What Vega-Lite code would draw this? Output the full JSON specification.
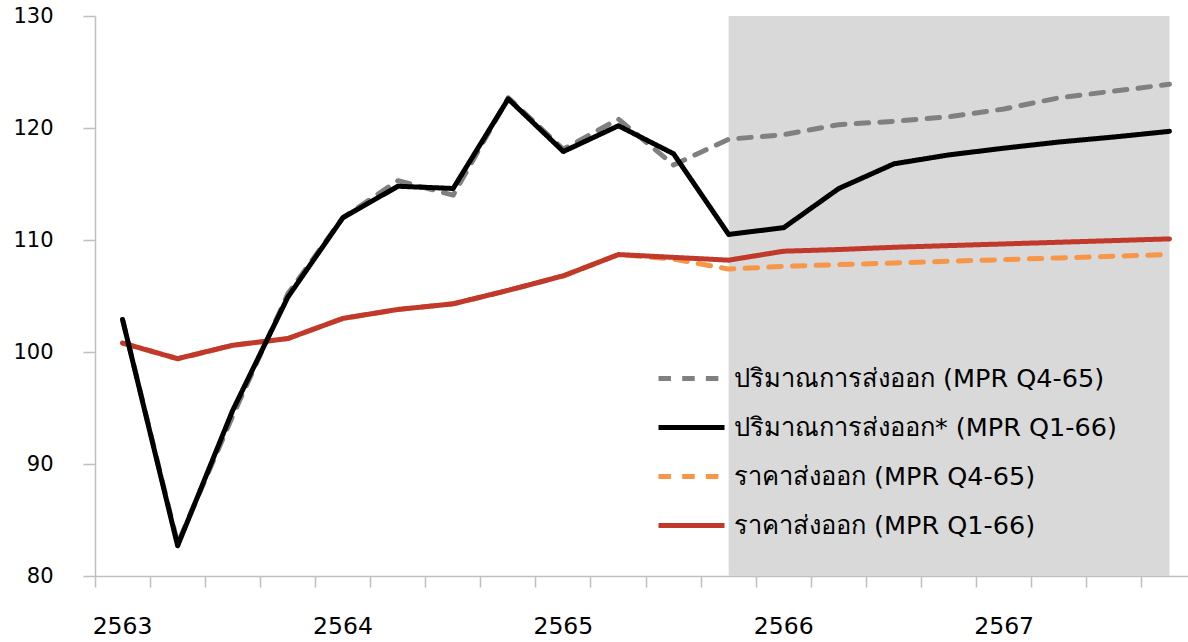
{
  "$schema": "https://vega.github.io/schema/vega-lite/v6.json",
  "width": 1093,
  "height": 560,
  "autosize": {"type": "none"},
  "padding": {"left": 95, "top": 16, "right": 0, "bottom": 66},
  "background": "white",
  "config": {
    "view": {"stroke": null},
    "font": "DejaVu Sans"
  },
  "datasets": {
    "series": [
      {"q": "2563-Q1", "s": "ปริมาณการส่งออก (MPR Q4-65)", "v": 102.9},
      {"q": "2563-Q2", "s": "ปริมาณการส่งออก (MPR Q4-65)", "v": 82.9},
      {"q": "2563-Q3", "s": "ปริมาณการส่งออก (MPR Q4-65)", "v": 94.3},
      {"q": "2563-Q4", "s": "ปริมาณการส่งออก (MPR Q4-65)", "v": 105.2},
      {"q": "2564-Q1", "s": "ปริมาณการส่งออก (MPR Q4-65)", "v": 112.0},
      {"q": "2564-Q2", "s": "ปริมาณการส่งออก (MPR Q4-65)", "v": 115.3},
      {"q": "2564-Q3", "s": "ปริมาณการส่งออก (MPR Q4-65)", "v": 114.0},
      {"q": "2564-Q4", "s": "ปริมาณการส่งออก (MPR Q4-65)", "v": 122.7},
      {"q": "2565-Q1", "s": "ปริมาณการส่งออก (MPR Q4-65)", "v": 118.1},
      {"q": "2565-Q2", "s": "ปริมาณการส่งออก (MPR Q4-65)", "v": 120.8},
      {"q": "2565-Q3", "s": "ปริมาณการส่งออก (MPR Q4-65)", "v": 116.7},
      {"q": "2565-Q4", "s": "ปริมาณการส่งออก (MPR Q4-65)", "v": 119.0},
      {"q": "2566-Q1", "s": "ปริมาณการส่งออก (MPR Q4-65)", "v": 119.4},
      {"q": "2566-Q2", "s": "ปริมาณการส่งออก (MPR Q4-65)", "v": 120.3},
      {"q": "2566-Q3", "s": "ปริมาณการส่งออก (MPR Q4-65)", "v": 120.6},
      {"q": "2566-Q4", "s": "ปริมาณการส่งออก (MPR Q4-65)", "v": 121.0},
      {"q": "2567-Q1", "s": "ปริมาณการส่งออก (MPR Q4-65)", "v": 121.7},
      {"q": "2567-Q2", "s": "ปริมาณการส่งออก (MPR Q4-65)", "v": 122.7},
      {"q": "2567-Q3", "s": "ปริมาณการส่งออก (MPR Q4-65)", "v": 123.3},
      {"q": "2567-Q4", "s": "ปริมาณการส่งออก (MPR Q4-65)", "v": 123.9},
      {"q": "2563-Q1", "s": "ราคาส่งออก (MPR Q4-65)", "v": 100.8},
      {"q": "2563-Q2", "s": "ราคาส่งออก (MPR Q4-65)", "v": 99.4},
      {"q": "2563-Q3", "s": "ราคาส่งออก (MPR Q4-65)", "v": 100.6},
      {"q": "2563-Q4", "s": "ราคาส่งออก (MPR Q4-65)", "v": 101.2},
      {"q": "2564-Q1", "s": "ราคาส่งออก (MPR Q4-65)", "v": 103.0},
      {"q": "2564-Q2", "s": "ราคาส่งออก (MPR Q4-65)", "v": 103.8},
      {"q": "2564-Q3", "s": "ราคาส่งออก (MPR Q4-65)", "v": 104.3},
      {"q": "2564-Q4", "s": "ราคาส่งออก (MPR Q4-65)", "v": 105.5},
      {"q": "2565-Q1", "s": "ราคาส่งออก (MPR Q4-65)", "v": 106.8},
      {"q": "2565-Q2", "s": "ราคาส่งออก (MPR Q4-65)", "v": 108.7},
      {"q": "2565-Q3", "s": "ราคาส่งออก (MPR Q4-65)", "v": 108.3},
      {"q": "2565-Q4", "s": "ราคาส่งออก (MPR Q4-65)", "v": 107.4},
      {"q": "2566-Q1", "s": "ราคาส่งออก (MPR Q4-65)", "v": 107.65},
      {"q": "2566-Q2", "s": "ราคาส่งออก (MPR Q4-65)", "v": 107.8},
      {"q": "2566-Q3", "s": "ราคาส่งออก (MPR Q4-65)", "v": 107.95},
      {"q": "2566-Q4", "s": "ราคาส่งออก (MPR Q4-65)", "v": 108.1},
      {"q": "2567-Q1", "s": "ราคาส่งออก (MPR Q4-65)", "v": 108.25},
      {"q": "2567-Q2", "s": "ราคาส่งออก (MPR Q4-65)", "v": 108.4},
      {"q": "2567-Q3", "s": "ราคาส่งออก (MPR Q4-65)", "v": 108.55},
      {"q": "2567-Q4", "s": "ราคาส่งออก (MPR Q4-65)", "v": 108.7},
      {"q": "2563-Q1", "s": "ราคาส่งออก (MPR Q1-66)", "v": 100.8},
      {"q": "2563-Q2", "s": "ราคาส่งออก (MPR Q1-66)", "v": 99.4},
      {"q": "2563-Q3", "s": "ราคาส่งออก (MPR Q1-66)", "v": 100.6},
      {"q": "2563-Q4", "s": "ราคาส่งออก (MPR Q1-66)", "v": 101.2},
      {"q": "2564-Q1", "s": "ราคาส่งออก (MPR Q1-66)", "v": 103.0},
      {"q": "2564-Q2", "s": "ราคาส่งออก (MPR Q1-66)", "v": 103.8},
      {"q": "2564-Q3", "s": "ราคาส่งออก (MPR Q1-66)", "v": 104.3},
      {"q": "2564-Q4", "s": "ราคาส่งออก (MPR Q1-66)", "v": 105.5},
      {"q": "2565-Q1", "s": "ราคาส่งออก (MPR Q1-66)", "v": 106.8},
      {"q": "2565-Q2", "s": "ราคาส่งออก (MPR Q1-66)", "v": 108.7},
      {"q": "2565-Q3", "s": "ราคาส่งออก (MPR Q1-66)", "v": 108.45},
      {"q": "2565-Q4", "s": "ราคาส่งออก (MPR Q1-66)", "v": 108.2},
      {"q": "2566-Q1", "s": "ราคาส่งออก (MPR Q1-66)", "v": 109.0},
      {"q": "2566-Q2", "s": "ราคาส่งออก (MPR Q1-66)", "v": 109.15},
      {"q": "2566-Q3", "s": "ราคาส่งออก (MPR Q1-66)", "v": 109.35},
      {"q": "2566-Q4", "s": "ราคาส่งออก (MPR Q1-66)", "v": 109.5},
      {"q": "2567-Q1", "s": "ราคาส่งออก (MPR Q1-66)", "v": 109.65},
      {"q": "2567-Q2", "s": "ราคาส่งออก (MPR Q1-66)", "v": 109.8},
      {"q": "2567-Q3", "s": "ราคาส่งออก (MPR Q1-66)", "v": 109.95},
      {"q": "2567-Q4", "s": "ราคาส่งออก (MPR Q1-66)", "v": 110.1},
      {"q": "2563-Q1", "s": "ปริมาณการส่งออก* (MPR Q1-66)", "v": 102.9},
      {"q": "2563-Q2", "s": "ปริมาณการส่งออก* (MPR Q1-66)", "v": 82.7},
      {"q": "2563-Q3", "s": "ปริมาณการส่งออก* (MPR Q1-66)", "v": 94.8},
      {"q": "2563-Q4", "s": "ปริมาณการส่งออก* (MPR Q1-66)", "v": 104.9},
      {"q": "2564-Q1", "s": "ปริมาณการส่งออก* (MPR Q1-66)", "v": 112.0},
      {"q": "2564-Q2", "s": "ปริมาณการส่งออก* (MPR Q1-66)", "v": 114.8},
      {"q": "2564-Q3", "s": "ปริมาณการส่งออก* (MPR Q1-66)", "v": 114.6},
      {"q": "2564-Q4", "s": "ปริมาณการส่งออก* (MPR Q1-66)", "v": 122.6},
      {"q": "2565-Q1", "s": "ปริมาณการส่งออก* (MPR Q1-66)", "v": 117.9},
      {"q": "2565-Q2", "s": "ปริมาณการส่งออก* (MPR Q1-66)", "v": 120.2},
      {"q": "2565-Q3", "s": "ปริมาณการส่งออก* (MPR Q1-66)", "v": 117.7},
      {"q": "2565-Q4", "s": "ปริมาณการส่งออก* (MPR Q1-66)", "v": 110.5},
      {"q": "2566-Q1", "s": "ปริมาณการส่งออก* (MPR Q1-66)", "v": 111.1},
      {"q": "2566-Q2", "s": "ปริมาณการส่งออก* (MPR Q1-66)", "v": 114.6},
      {"q": "2566-Q3", "s": "ปริมาณการส่งออก* (MPR Q1-66)", "v": 116.8},
      {"q": "2566-Q4", "s": "ปริมาณการส่งออก* (MPR Q1-66)", "v": 117.6},
      {"q": "2567-Q1", "s": "ปริมาณการส่งออก* (MPR Q1-66)", "v": 118.2},
      {"q": "2567-Q2", "s": "ปริมาณการส่งออก* (MPR Q1-66)", "v": 118.75},
      {"q": "2567-Q3", "s": "ปริมาณการส่งออก* (MPR Q1-66)", "v": 119.2},
      {"q": "2567-Q4", "s": "ปริมาณการส่งออก* (MPR Q1-66)", "v": 119.7}
    ],
    "forecast": [
      {"q": "2565-Q4"}, {"q": "2566-Q1"}, {"q": "2566-Q2"}, {"q": "2566-Q3"}, {"q": "2566-Q4"},
      {"q": "2567-Q1"}, {"q": "2567-Q2"}, {"q": "2567-Q3"}, {"q": "2567-Q4"}
    ]
  },
  "layer": [
    {
      "data": {"name": "forecast"},
      "mark": {"type": "area", "color": "#D9D9D9", "opacity": 1},
      "encoding": {
        "x": {"field": "q", "type": "ordinal"},
        "y": {"datum": 130, "type": "quantitative"},
        "y2": {"datum": 80}
      }
    },
    {
      "data": {"name": "series"},
      "mark": {"type": "line", "strokeCap": "round", "strokeJoin": "round"},
      "encoding": {
        "x": {"field": "q", "type": "ordinal"},
        "y": {"field": "v", "type": "quantitative"},
        "color": {
          "field": "s",
          "type": "nominal",
          "scale": {
            "domain": ["ปริมาณการส่งออก (MPR Q4-65)", "ปริมาณการส่งออก* (MPR Q1-66)", "ราคาส่งออก (MPR Q4-65)", "ราคาส่งออก (MPR Q1-66)"],
            "range": ["#808080", "#000000", "#F79646", "#C0392B"]
          },
          "legend": {
            "title": null,
            "orient": "none",
            "legendX": 561,
            "legendY": 327,
            "symbolType": "stroke",
            "symbolSize": 4356,
            "symbolStrokeWidth": 5,
            "labelFontSize": 25.5,
            "labelColor": "#000000",
            "labelFont": "DejaVu Sans",
            "labelLimit": 600,
            "rowPadding": -18,
            "labelOffset": 7
          }
        },
        "strokeDash": {
          "field": "s",
          "type": "nominal",
          "scale": {
            "domain": ["ปริมาณการส่งออก (MPR Q4-65)", "ปริมาณการส่งออก* (MPR Q1-66)", "ราคาส่งออก (MPR Q4-65)", "ราคาส่งออก (MPR Q1-66)"],
            "range": [[12.5, 11.2], [1, 0], [12.5, 11.2], [1, 0]]
          }
        },
        "strokeWidth": {
          "field": "s",
          "type": "nominal",
          "scale": {
            "domain": ["ปริมาณการส่งออก (MPR Q4-65)", "ปริมาณการส่งออก* (MPR Q1-66)", "ราคาส่งออก (MPR Q4-65)", "ราคาส่งออก (MPR Q1-66)"],
            "range": [5, 5, 4.5, 4.5]
          },
          "legend": null
        }
      }
    }
  ],
  "encoding": {
    "x": {
      "field": "q",
      "type": "ordinal",
      "scale": {"type": "band", "range": [0, 1102], "paddingInner": 0, "paddingOuter": 0},
      "axis": {
        "title": null,
        "bandPosition": 0,
        "labelOffset": 0,
        "labelAngle": 0,
        "labelExpr": "indexof(datum.value, 'Q1') > 0 ? slice(datum.value, 0, 4) : ''",
        "labelFontSize": 23.5,
        "labelColor": "#000000",
        "labelPadding": 27,
        "tickSize": 11,
        "tickColor": "#BFBFBF",
        "tickWidth": 1.5,
        "domainColor": "#BFBFBF",
        "domainWidth": 1.5,
        "labelOverlap": false,
        "grid": false
      }
    },
    "y": {
      "type": "quantitative",
      "scale": {"domain": [80, 130], "nice": false, "zero": false},
      "axis": {
        "title": null,
        "values": [80, 90, 100, 110, 120, 130],
        "labelFontSize": 21,
        "labelColor": "#000000",
        "labelPadding": 30,
        "tickSize": 12,
        "tickColor": "#BFBFBF",
        "tickWidth": 1.5,
        "domainColor": "#BFBFBF",
        "domainWidth": 1.5,
        "grid": false
      }
    }
  }
}
